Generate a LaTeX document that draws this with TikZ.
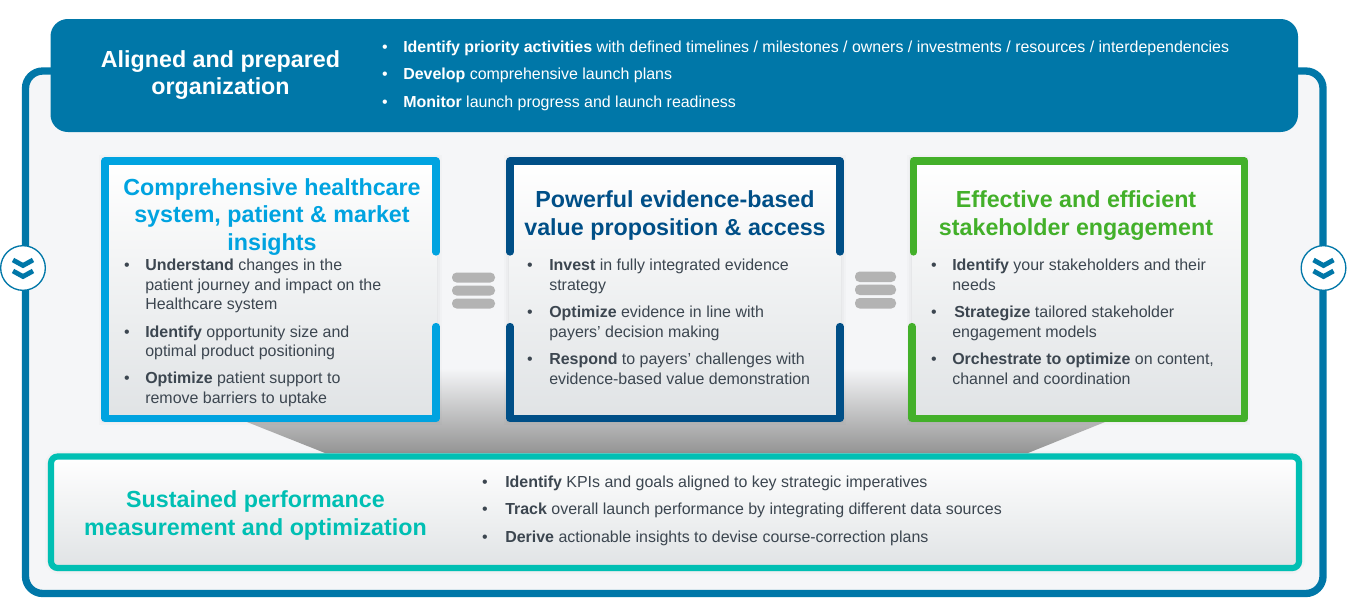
\documentclass[tikz,border=0pt]{standalone}
\usepackage{fontspec}
\setmainfont{Liberation Sans}
\usetikzlibrary{shapes}
\definecolor{bannerblue}{HTML}{0077A8}
\definecolor{skyblue}{HTML}{00A3E0}
\definecolor{navyblue}{HTML}{004F87}
\definecolor{leafgreen}{HTML}{43B02A}
\definecolor{tealgreen}{HTML}{00BFB3}
\definecolor{pagegrey}{HTML}{F5F6F8}
\definecolor{panelgrey}{HTML}{E0E3E5}
\definecolor{bodytext}{HTML}{3C4650}
\definecolor{bargrey}{HTML}{B3B3B3}
\begin{document}
\begin{tikzpicture}[x=0.75pt,y=-0.75pt,
    title/.style={font=\bfseries\fontsize{17.45}{20.6}\selectfont,align=center,inner sep=0pt,anchor=base},
    item/.style={font=\fontsize{11.97}{14.6}\selectfont,text=bodytext,align=left,inner sep=0pt,anchor=base west},
    whiteitem/.style={item,text=white},
    bul/.style={font=\fontsize{12}{12}\selectfont,text=bodytext,inner sep=0pt,anchor=base},
    whitebul/.style={bul,text=white},
    border/.style={line width=5.4pt,line cap=round,line join=round},
    panel/.style={top color=white,bottom color=panelgrey,draw=none},
    badge/.style={shape=circle,draw=bannerblue,fill=white,line width=1pt,minimum size=33.5pt,inner sep=0pt},
    chevron/.style={draw=bannerblue,line width=3.6pt,line join=miter},
    bar/.style={fill=bargrey,rounded corners=3.5pt,draw=none}]
    \useasboundingbox (0,0) rectangle (1358,611);
    \fill[white] (0,0) rectangle (1358,611);

    % outer frame
    \draw[draw=bannerblue,fill=pagegrey,line width=5.5pt,rounded corners=13pt] (25.5,71) rectangle (1323,593.5);

    % backdrop below the three panels
    \path[top color=pagegrey,bottom color=black!42] (247,368) -- (1105,368) -- (1105,422) -- (1028,453) -- (325,453) -- (247,422) -- cycle;

    % banner
    \fill[bannerblue,rounded corners=13pt] (50.5,19) rectangle (1298,132);
    \node[title,text=white](Aligned)at(220.5, 94.5){Aligned and prepared\\organization};
    \node[whitebul](b1)at(385, 52){•};
    \node[whitebul](b2)at(385, 79.5){•};
    \node[whitebul](b3)at(385, 107){•};
    \node[whiteitem](t1)at(403, 52){\textbf{Identify priority activities} with defined timelines / milestones / owners / investments / resources / interdependencies};
    \node[whiteitem](t2)at(403, 79.5){\textbf{Develop} comprehensive launch plans};
    \node[whiteitem](t3)at(403, 107){\textbf{Monitor} launch progress and launch readiness};

    % soft edges of the panels
    \foreach \w/\o in {9/0.015,6/0.02,3/0.025}{
        \draw[black,opacity=\o,line width=\w] (105,161) rectangle (436,418.5);
        \draw[black,opacity=\o,line width=\w] (510,161) rectangle (840,418.5);
        \draw[black,opacity=\o,line width=\w] (913,161) rectangle (1244,418.5);
        \draw[black,opacity=\o,line width=\w,rounded corners=6pt] (51,456.5) rectangle (1299,568);
    }

    % first panel
    \path[panel] (104,161) rectangle (437,419);
    \draw[border,draw=skyblue] (436,252) -- (436,161) -- (105,161) -- (105,418.5) -- (436,418.5) -- (436,326.5);
    \node[title,text=skyblue](Insights)at(272, 250){Comprehensive healthcare\\system, patient \& market\\insights};
    \node[bul](c1)at(127, 270.5){•};
    \node[bul](c2)at(127, 337){•};
    \node[bul](c3)at(127, 383.5){•};
    \node[item](u1)at(145, 309.5){\textbf{Understand} changes in the\\patient journey and impact on the\\Healthcare system};
    \node[item](u2)at(145, 356.5){\textbf{Identify} opportunity size and\\optimal product positioning};
    \node[item](u3)at(145, 403){\textbf{Optimize} patient support to\\remove barriers to uptake};

    % second panel
    \path[panel] (509,161) rectangle (841,419);
    \draw[border,draw=navyblue] (510,252) -- (510,161) -- (840,161) -- (840,252);
    \draw[border,draw=navyblue] (510,326.5) -- (510,418.5) -- (840,418.5) -- (840,326.5);
    \node[title,text=navyblue](Evidence)at(675, 235){Powerful evidence-based\\value proposition \& access};
    \node[bul](e1)at(530, 270.5){•};
    \node[bul](e2)at(530, 317.5){•};
    \node[bul](e3)at(530, 364.5){•};
    \node[item](v1)at(549, 290){\textbf{Invest} in fully integrated evidence\\strategy};
    \node[item](v2)at(549, 337){\textbf{Optimize} evidence in line with\\payers’ decision making};
    \node[item](v3)at(549, 384){\textbf{Respond} to payers’ challenges with\\evidence-based value demonstration};

    % third panel
    \path[panel] (912,161) rectangle (1245,419);
    \draw[border,draw=leafgreen] (913.5,252) -- (913.5,161) -- (1244.5,161) -- (1244.5,418.5) -- (912,418.5) -- (912,326.5);
    \node[title,text=leafgreen](Stakeholder)at(1076, 235){Effective and efficient\\stakeholder engagement};
    \node[bul](s1)at(934, 270.5){•};
    \node[bul](s2)at(934, 317.5){•};
    \node[bul](s3)at(934, 364.5){•};
    \node[item](w1)at(952, 290){\textbf{Identify} your stakeholders and their\\needs};
    \node[item](w2)at(952, 337){\hspace{1.5pt}\textbf{Strategize} tailored stakeholder\\engagement models};
    \node[item](w3)at(952, 384){\textbf{Orchestrate to optimize} on content,\\channel and coordination};

    % bars between the panels
    \foreach \y in {272.5,285.5,298.5}
        \fill[bar] (452,\y) rectangle (495,\y+10);
    \foreach \y in {271.5,284.5,298}
        \fill[bar] (855,\y) rectangle (896,\y+10.5);

    % bottom panel
    \draw[draw=tealgreen,line width=4.6pt,rounded corners=5pt,top color=white,bottom color=panelgrey] (51,456.5) rectangle (1299,568);
    \node[title,text=tealgreen](Sustained)at(255.5, 535){Sustained performance\\measurement and optimization};
    \node[bul](k1)at(485, 487){•};
    \node[bul](k2)at(485, 514.5){•};
    \node[bul](k3)at(485, 542){•};
    \node[item](m1)at(505, 487){\textbf{Identify} KPIs and goals aligned to key strategic imperatives};
    \node[item](m2)at(505, 514.5){\textbf{Track} overall launch performance by integrating different data sources};
    \node[item](m3)at(505, 542){\textbf{Derive} actionable insights to devise course-correction plans};

    % badges on the frame
    \node[badge](BadgeL)at(23, 268){};
    \node[badge](BadgeR)at(1323.5, 268){};
    \foreach \x in {23,1323.5}{
        \draw[chevron] (\x-10,260) -- (\x,265.5) -- (\x+10,260);
        \draw[chevron] (\x-10,271) -- (\x,276.5) -- (\x+10,271);
    }
\end{tikzpicture}
\end{document}
